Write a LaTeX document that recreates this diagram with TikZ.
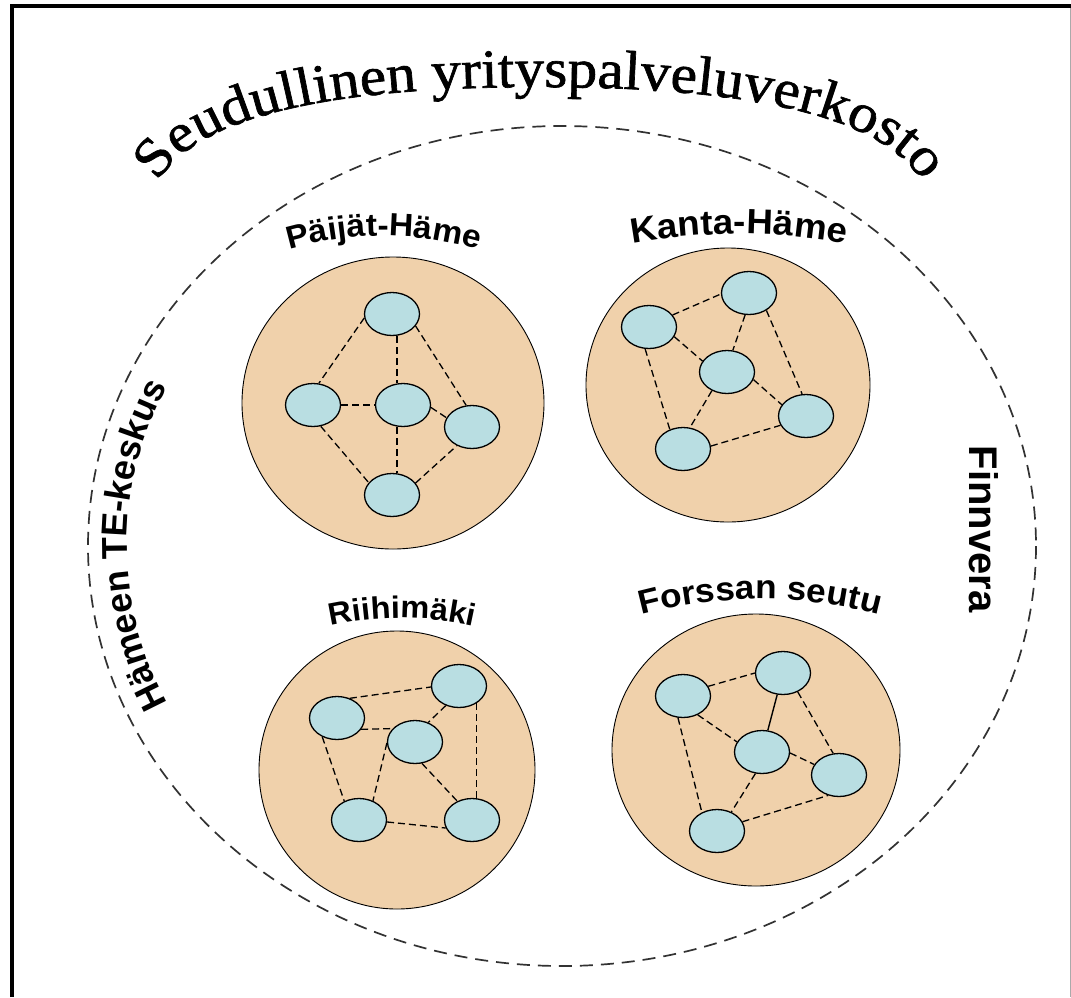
\documentclass[tikz,border=0pt]{standalone}
\usepackage{fontspec}
\setmainfont{Liberation Serif}
\newfontfamily\labelfont[FakeStretch=1.05]{Liberation Sans}
\newfontfamily\sidefont{Liberation Sans}
\newfontfamily\titlefont[FakeStretch=1.08,FakeBold=1.2]{Liberation Serif}
\usetikzlibrary{shapes.geometric,decorations.text}
\definecolor{discfill}{RGB}{240,209,171}
\definecolor{actorfill}{RGB}{185,222,226}
\definecolor{rimgray}{RGB}{50,50,50}
\definecolor{edgegray}{RGB}{170,170,170}

\begin{document}
\begin{tikzpicture}[x=1pt,y=-1pt,
  disc/.style={ellipse, draw=black, line width=0.9pt, fill=discfill, inner sep=0pt},
  actor/.style={ellipse, draw=black, line width=1.3pt, fill=actorfill,
    minimum width=55pt, minimum height=43pt, inner sep=0pt},
  link/.style={draw=black, line width=1.3pt, dash pattern=on 7pt off 4pt},
  solidlink/.style={draw=black, line width=1.4pt},
]
\useasboundingbox (0,0) rectangle (1071,997);
\fill[white] (0,0) rectangle (1071,997);

% page frame
\draw[black, line width=4pt] (12,997) -- (12,6) -- (1071,6);
\draw[edgegray, line width=1pt] (1070,8) -- (1070,997);

% regional network boundary
\draw[rimgray, line width=1.7pt, dash pattern=on 13pt off 8pt]
  (562,546) ellipse[x radius=474, y radius=420];

% title, arched over the network
\path[decorate, decoration={text along path, text align=center,
  text={|\titlefont\fontsize{55}{55}\selectfont|Seudullinen yrityspalveluverkosto}}]
  (145,203.8) -- (157,183) .. controls (197,113.7) and (340,87) .. (540,87)
  .. controls (740,87) and (883,113.7) .. (923,183) -- (935,203.8);

% side labels
\path[decorate, decoration={text along path, text align=center,
  text={|\sidefont\bfseries\fontsize{36}{36}\selectfont|Hämeen TE-keskus}}]
  (457,545) ++(140:330) arc[start angle=140, end angle=220, radius=330];
\node[rotate=-90, font=\sidefont\bfseries\fontsize{40}{40}\selectfont, inner sep=0pt]
  (finnvera) at (984,529) {Finnvera};

% four sub-regions
\node[disc, minimum width=302pt, minimum height=292pt] (pDisc) at (393,403) {};
\node[disc, minimum width=284pt, minimum height=274pt] (kDisc) at (728,385) {};
\node[disc, minimum width=276pt, minimum height=278pt] (rDisc) at (397,770) {};
\node[disc, minimum width=288pt, minimum height=272pt] (fDisc) at (756,750) {};

% region names
\path[decorate, decoration={text along path, text align=center,
  text={|\labelfont\bfseries\fontsize{32}{32}\selectfont|Päijät-Häme}}]
  (384,575) ++(248:339) arc[start angle=248, end angle=292, radius=339];
\path[decorate, decoration={text along path, text align=center,
  text={|\labelfont\bfseries\fontsize{35}{35}\selectfont|Kanta-Häme}}]
  (739,834) ++(252:600) arc[start angle=252, end angle=288, radius=600];
\path[decorate, decoration={text along path, text align=center,
  text={|\labelfont\bfseries\fontsize{31}{31}\selectfont|Riihimäki}}]
  (402,946) ++(250:328) arc[start angle=250, end angle=290, radius=328];
\path[decorate, decoration={text along path, text align=center,
  text={|\labelfont\bfseries\fontsize{33.5}{33.5}\selectfont|Forssan seutu}}]
  (760,1057) ++(248:458) arc[start angle=248, end angle=292, radius=458];

% Päijät-Häme actors
\node[actor] (pT) at (392,314) {};
\node[actor] (pL) at (313,405) {};
\node[actor] (pC) at (403,405) {};
\node[actor] (pR) at (472,427) {};
\node[actor] (pB) at (392,495) {};
\draw[link] (pT.188) -- (pL.75);
\draw[link] ([xshift=5pt]pT.south) -- ([xshift=-6pt]pC.north);
\draw[link] (pT.-27) -- (pR.105);
\draw[link] (pL) -- (pC);
\draw[link] (pC.-5) -- (pR.160);
\draw[link] ([xshift=-6pt]pC.south) -- ([xshift=5pt]pB.north);
\draw[link] (pL.-70) -- (pB.152);
\draw[link] (pB.27) -- (pR.-129);

% Kanta-Häme actors
\node[actor] (kTL) at (649,327) {};
\node[actor] (kTR) at (749,293) {};
\node[actor] (kC) at (727,372) {};
\node[actor] (kR) at (806,416) {};
\node[actor] (kB) at (683,449) {};
\draw[link] (kTL.27) -- (kTR.182);
\draw[link] (kTL.-21) -- (kC.156);
\draw[link] (kTL.-100) -- (kB.124);
\draw[link] (kTR.-100) -- (kC.75);
\draw[link] (kTR.-45) -- (kR.100);
\draw[link] (kC.-16) -- (kR.155);
\draw[link] (kC.-129) -- (kB.72);
\draw[link] (kB.6) -- (kR.-160);

% Riihimäki actors
\node[actor] (rTL) at (337,718) {};
\node[actor] (rTR) at (459,686) {};
\node[actor] (rC) at (415,742) {};
\node[actor] (rBL) at (359,820) {};
\node[actor] (rBR) at (472,820) {};
\draw[link] (rTL.57) -- (rTR.182);
\draw[link] (rTL.-25) -- (rC.149);
\draw[link] (rTR.-124) -- (rC.56);
\draw[link] (rTR.-45) -- (rTR.-45 |- rBR.north);
\draw[link] (rTL.-128) -- (rBL.128);
\draw[link] (rC.182) -- (rBL.54);
\draw[link] (rC.-72) -- (rBR.128);
\draw[link] (rBL.-4) -- (rBR.-163);

% Forssan seutu actors
\node[actor] (fTL) at (683,696) {};
\node[actor] (fTR) at (783,673) {};
\node[actor] (fC) at (762,752) {};
\node[actor] (fR) at (839,775) {};
\node[actor] (fBL) at (717,831) {};
\draw[link] (fTL.21) -- (fTR.180);
\draw[solidlink] (fTR.-105) -- (fC.75);
\draw[link] (fTR.-52) -- (fR.105);
\draw[link] (fTL.-52) -- (fC.158);
\draw[link] (fC.-2) -- (fR.157);
\draw[link] (fTL.-103) -- (fBL.129);
\draw[link] (fC.-107) -- (fBL.53);
\draw[link] (fBL.20) -- (fR.-118);
\end{tikzpicture}
\end{document}
